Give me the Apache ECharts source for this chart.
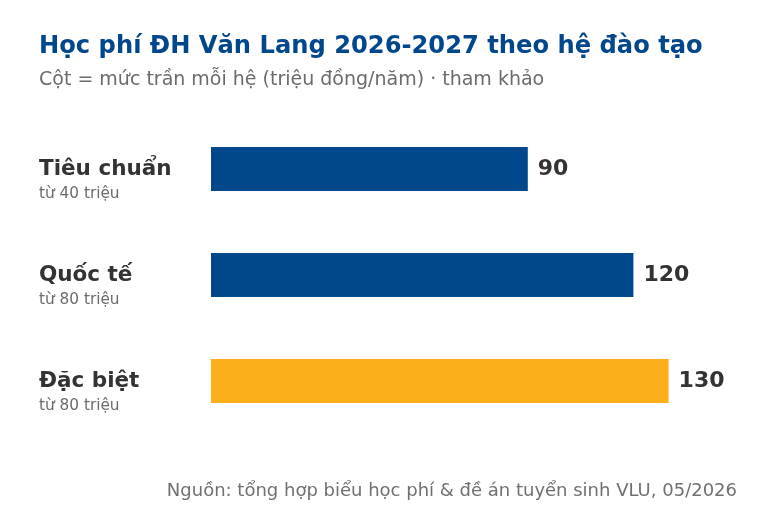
<!DOCTYPE html>
<html>
<head>
<meta charset="utf-8">
<script src="https://cdn.jsdelivr.net/npm/echarts@6/dist/echarts.min.js"></script>
<style>
  html, body { margin: 0; padding: 0; background: #fff; }
  #chart { width: 768px; height: 512px; }
</style>
</head>
<body>
<div id="chart"></div>
<script>
  // dữ liệu học phí (triệu đồng/năm)
  var categories = ['Tiêu chuẩn', 'Quốc tế', 'Đặc biệt'];
  var subLabels = ['từ 40 triệu', 'từ 80 triệu', 'từ 80 triệu'];
  var maxValues = [90, 120, 130];
  var barColors = ['#00478b', '#00478b', '#fbaf1b'];

  var chart = echarts.init(document.getElementById('chart'));
  var font = 'DejaVu Sans';

  chart.setOption({
    textStyle: { fontFamily: font },
    title: [
      {
        text: 'Học phí ĐH Văn Lang 2026-2027 theo hệ đào tạo',
        left: 39, top: 35, padding: 0,
        textStyle: { fontFamily: font, fontSize: 24.2, fontWeight: 'bold', color: '#00478b' }
      },
      {
        text: 'Cột = mức trần mỗi hệ (triệu đồng/năm) · tham khảo',
        left: 39, top: 71, padding: 0,
        textStyle: { fontFamily: font, fontSize: 19, fontWeight: 'normal', color: '#6b6b6b' }
      },
      {
        text: 'Nguồn: tổng hợp biểu học phí & đề án tuyển sinh VLU, 05/2026',
        right: 31, top: 482, padding: 0,
        textStyle: { fontFamily: font, fontSize: 18, fontWeight: 'normal', color: '#707070' }
      }
    ],
    grid: { left: 211, right: 29, top: 116, bottom: 78 },
    xAxis: {
      type: 'value', min: 0, max: 150,
      show: false
    },
    yAxis: {
      type: 'category',
      inverse: true,
      data: categories,
      axisLine: { show: false },
      axisTick: { show: false },
      splitLine: { show: false },
      axisLabel: {
        align: 'left',
        margin: 172,
        padding: [26, 0, 0, 0],
        formatter: function (v, i) {
          return '{name|' + v + '}\n{sub|' + subLabels[i] + '}';
        },
        rich: {
          name: { fontFamily: font, fontSize: 21.5, fontWeight: 'bold', color: '#333333', lineHeight: 24 },
          sub: { fontFamily: font, fontSize: 15.3, color: '#6b6b6b', lineHeight: 26 }
        }
      }
    },
    series: [{
      type: 'bar',
      barWidth: 44,
      data: maxValues.map(function (v, i) {
        return { value: v, itemStyle: { color: barColors[i] } };
      }),
      label: {
        show: true,
        position: 'right',
        distance: 10,
        fontFamily: font,
        fontSize: 22,
        fontWeight: 'bold',
        color: '#333333'
      },
      animation: false
    }],
    animation: false
  });
</script>
</body>
</html>
